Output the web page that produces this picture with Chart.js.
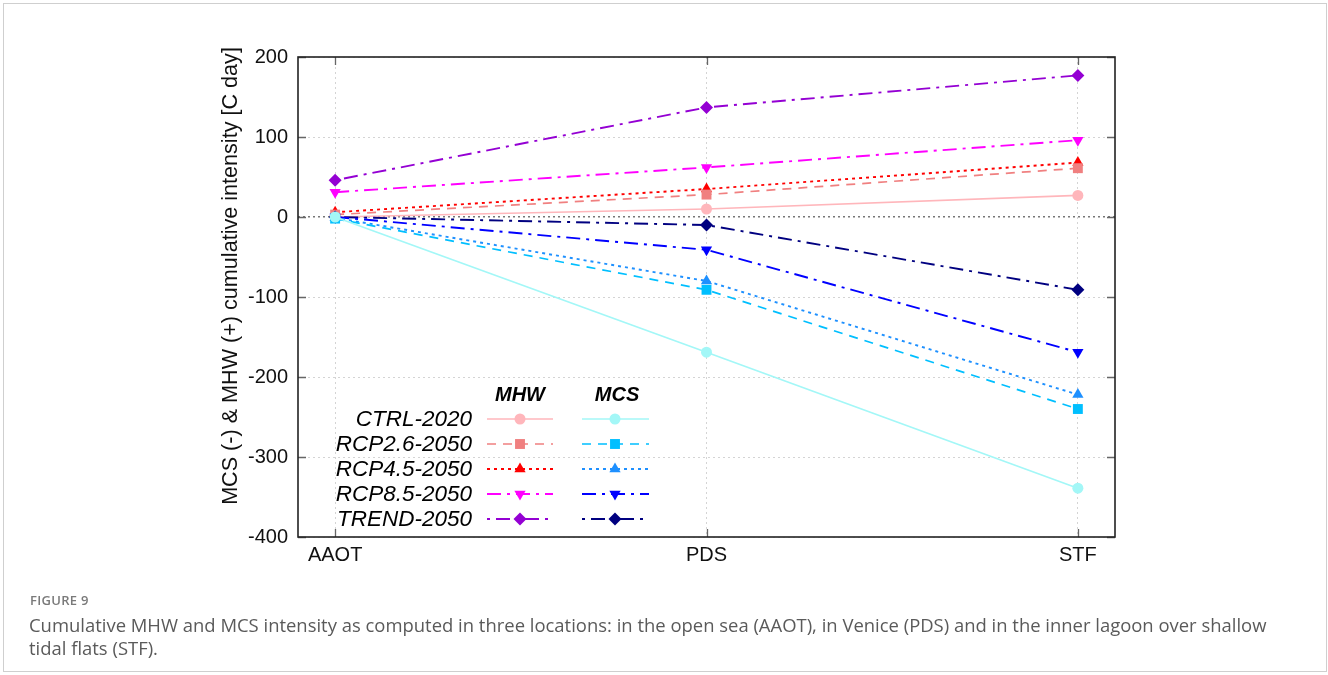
<!DOCTYPE html>
<html>
<head>
<meta charset="utf-8">
<script src="https://cdn.jsdelivr.net/npm/chart.js@4.4.1/dist/chart.umd.min.js"></script>
<style>
  html, body { margin: 0; padding: 0; background: #fff; }
  #wrap { position: relative; width: 1328px; height: 675px; overflow: hidden; }
  #frame { position: absolute; left: 3px; top: 3px; width: 1324px; height: 669px; border: 1px solid #cfcfcf; box-sizing: border-box; }
  #c { position: absolute; left: 0; top: 0; }
  #figlabel { position: absolute; left: 30px; top: 591px; font-family: "Open Sans", sans-serif; font-weight: 600; font-size: 13px; color: #7a7a7a; letter-spacing: 0.3px; }
  #caption { position: absolute; left: 29px; top: 613px; width: 1250px; font-family: "Open Sans", sans-serif; font-size: 18.45px; line-height: 23px; color: #5a5a5a; }
</style>
</head>
<body>
<div id="wrap">
  <div id="frame"></div>
  <canvas id="c" width="1328" height="675"></canvas>
  <div id="figlabel">FIGURE 9</div>
  <div id="caption">Cumulative MHW and MCS intensity as computed in three locations: in the open sea (AAOT), in Venice (PDS) and in the inner lagoon over shallow tidal flats (STF).</div>
</div>
<script>
// ---- data ----
const categories = ['AAOT', 'PDS', 'STF'];
const scenarios = ['CTRL-2020', 'RCP2.6-2050', 'RCP4.5-2050', 'RCP8.5-2050', 'TREND-2050'];
const yTicks = [200, 100, 0, -100, -200, -300, -400];

const mhwCtrl  = [0, 10, 27];
const mhwRcp26 = [3, 28, 61];
const mhwRcp45 = [6, 35, 68];
const mhwRcp85 = [31, 62, 96];
const mhwTrend = [46, 137, 177];

const mcsCtrl  = [0, -169, -339];
const mcsRcp26 = [-2, -91, -240];
const mcsRcp45 = [-1, -80, -222];
const mcsRcp85 = [0, -41, -169];
const mcsTrend = [0, -10, -91];

// ---- styles ----
const dashSolid = [];
const dashDash = [9, 7];
const dashDot = [3, 4];
const dashDashDot = [14, 6, 3, 6];
const dashDotDash = [3, 6, 14, 6];

const styles = [
  { mhw: '#ffb6bb', mcs: '#a3f7f7', dash: dashSolid, point: 'circle', rot: 0, r: 5.5, w: 1.7 },
  { mhw: '#f08080', mcs: '#00bfff', dash: dashDash, point: 'rect', rot: 0, r: 7, w: 1.7 },
  { mhw: '#ff0000', mcs: '#1e90ff', dash: dashDot, point: 'triangle', rot: 0, r: 6.5, w: 1.9 },
  { mhw: '#ff00ff', mcs: '#0000ff', dash: dashDashDot, point: 'triangle', rot: 180, r: 6.5, w: 1.9 },
  { mhw: '#9400d3', mcs: '#000080', dash: dashDotDash, point: 'rectRot', rot: 0, r: 6.5, w: 1.9 }
];

const mhwSeries = [mhwCtrl, mhwRcp26, mhwRcp45, mhwRcp85, mhwTrend];
const mcsSeries = [mcsCtrl, mcsRcp26, mcsRcp45, mcsRcp85, mcsTrend];

function mkDataset(label, values, color, st) {
  return {
    label: label,
    data: values.map((v, i) => ({ x: i, y: v })),
    borderColor: color,
    backgroundColor: color,
    borderWidth: st.w,
    borderDash: st.dash,
    pointStyle: st.point,
    pointRotation: st.rot,
    pointRadius: st.r,
    pointHoverRadius: st.r,
    pointBorderWidth: 0,
    tension: 0,
    fill: false
  };
}

const datasets = [];
for (let i = 0; i < scenarios.length; i++) {
  datasets.push(mkDataset('MCS ' + scenarios[i], mcsSeries[i], styles[i].mcs, styles[i]));
}
for (let i = 0; i < scenarios.length; i++) {
  datasets.push(mkDataset('MHW ' + scenarios[i], mhwSeries[i], styles[i].mhw, styles[i]));
}

const FONT = '"Liberation Sans", Arial, sans-serif';

const decor = {
  id: 'decor',
  afterDraw(chart) {
    const ctx = chart.ctx;
    const a = chart.chartArea;
    const xs = chart.scales.x, ys = chart.scales.y;
    ctx.save();
    // inner tick marks
    ctx.strokeStyle = '#666';
    ctx.lineWidth = 1.3;
    ctx.setLineDash([]);
    yTicks.forEach(v => {
      const y = Math.round(ys.getPixelForValue(v)) + 0.5;
      ctx.beginPath();
      ctx.moveTo(a.left, y); ctx.lineTo(a.left + 8, y);
      ctx.moveTo(a.right, y); ctx.lineTo(a.right - 8, y);
      ctx.stroke();
    });
    categories.forEach((c, i) => {
      const x = Math.round(xs.getPixelForValue(i)) + 0.5;
      ctx.beginPath();
      ctx.moveTo(x, a.bottom); ctx.lineTo(x, a.bottom - 8);
      ctx.moveTo(x, a.top); ctx.lineTo(x, a.top + 8);
      ctx.stroke();
    });
    // frame
    ctx.strokeStyle = '#222';
    ctx.lineWidth = 1.6;
    ctx.strokeRect(a.left, a.top, a.right - a.left, a.bottom - a.top);

    // y axis title
    ctx.save();
    ctx.translate(231, 276);
    ctx.rotate(-Math.PI / 2);
    ctx.fillStyle = '#111';
    ctx.font = '21.6px ' + FONT;
    ctx.textAlign = 'center';
    ctx.textBaseline = 'middle';
    ctx.fillText('MCS (-) & MHW (+) cumulative intensity [C day]', 0, 0);
    ctx.restore();

    // legend
    const labelRight = 472;
    const rowY0 = 419, rowStep = 25;
    const mhwX0 = 487, mhwX1 = 553, mhwM = 520;
    const mcsX0 = 582, mcsX1 = 649, mcsM = 615;
    ctx.fillStyle = '#000';
    ctx.font = 'italic bold 20px ' + FONT;
    ctx.textAlign = 'center';
    ctx.textBaseline = 'middle';
    ctx.fillText('MHW', mhwM, 395);
    ctx.fillText('MCS', mcsM + 2, 395);
    ctx.font = 'italic 22.5px ' + FONT;
    ctx.textAlign = 'right';
    for (let i = 0; i < scenarios.length; i++) {
      const y = rowY0 + i * rowStep;
      const st = styles[i];
      ctx.fillStyle = '#000';
      ctx.fillText(scenarios[i], labelRight, y + 1);
      [[mhwX0, mhwX1, mhwM, st.mhw], [mcsX0, mcsX1, mcsM, st.mcs]].forEach(([x0, x1, m, col]) => {
        ctx.save();
        ctx.strokeStyle = col;
        ctx.lineWidth = st.w;
        ctx.setLineDash(st.dash);
        ctx.beginPath();
        ctx.moveTo(x0, y); ctx.lineTo(x1, y);
        ctx.stroke();
        ctx.restore();
        ctx.fillStyle = col;
        Chart.helpers.drawPoint(ctx, { pointStyle: st.point, rotation: st.rot, radius: st.r, borderWidth: 0 }, m, y);
      });
    }
    ctx.restore();
  }
};

new Chart(document.getElementById('c'), {
  type: 'line',
  data: { datasets: datasets },
  options: {
    responsive: false,
    animation: false,
    events: [],
    layout: { padding: { left: 0, right: 213, top: 57, bottom: 0 } },
    plugins: { legend: { display: false }, tooltip: { enabled: false } },
    scales: {
      x: {
        type: 'linear',
        min: -0.1,
        max: 2.1,
        afterFit(s) { s.height = 138; },
        afterBuildTicks(s) { s.ticks = categories.map((c, i) => ({ value: i })); },
        ticks: {
          callback: (v) => categories[v] !== undefined ? categories[v] : '',
          font: { family: FONT, size: 20 },
          color: '#111',
          padding: 6,
          maxRotation: 0,
          autoSkip: false
        },
        grid: { color: '#d4d4d4', lineWidth: 1, drawTicks: false },
        border: { display: false, dash: [2, 3] }
      },
      y: {
        type: 'linear',
        min: -400,
        max: 200,
        afterFit(s) { s.width = 298; },
        afterBuildTicks(s) { s.ticks = yTicks.map(v => ({ value: v })); },
        ticks: {
          font: { family: FONT, size: 20 },
          color: '#111',
          padding: 10
        },
        grid: {
          color: (c) => (c.tick && c.tick.value === 0) ? '#777' : '#d4d4d4',
          lineWidth: (c) => (c.tick && c.tick.value === 0) ? 1.6 : 1,
          drawTicks: false
        },
        border: { display: false, dash: [2, 3] }
      }
    }
  },
  plugins: [decor]
});
</script>
</body>
</html>
